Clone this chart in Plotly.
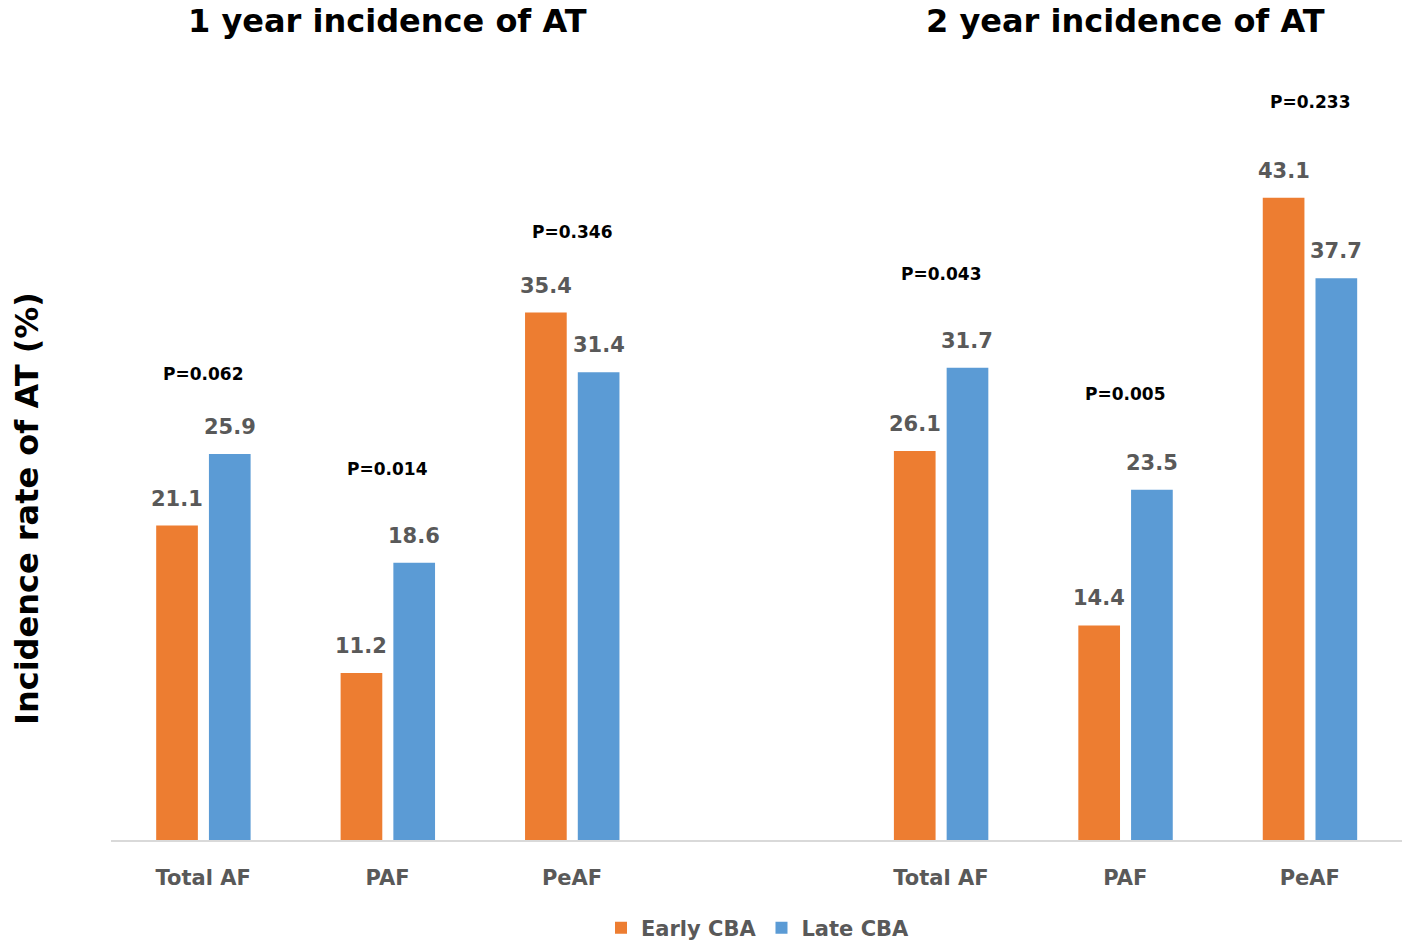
import plotly.graph_objects as go

# Incidence of atrial tachyarrhythmia (%) by AF type, early vs late cryoballoon ablation
periods = ["1 year incidence of AT", "2 year incidence of AT"]
af_types = ["Total AF", "PAF", "PeAF"]
early_1y = [21.1, 11.2, 35.4]
late_1y = [25.9, 18.6, 31.4]
early_2y = [26.1, 14.4, 43.1]
late_2y = [31.7, 23.5, 37.7]
p_1y = ["P=0.062", "P=0.014", "P=0.346"]
p_2y = ["P=0.043", "P=0.005", "P=0.233"]
# height (in % units) at which each P-value label sits
p_level_1y = [31.3, 24.9, 40.8]
p_level_2y = [38.0, 29.9, 49.5]

ORANGE = "#ED7D31"
BLUE = "#5B9BD5"
GREY = "#595959"
FONT = "DejaVu Sans"

# slot positions: three categories per period, one empty slot between periods
pos_1y = [i for i in range(len(af_types))]
pos_2y = [i + len(af_types) + 1 for i in range(len(af_types))]
positions = pos_1y + pos_2y
labels = af_types + af_types
early = early_1y + early_2y
late = late_1y + late_2y
p_text = p_1y + p_2y
p_level = p_level_1y + p_level_2y

bar_w = 0.226
off_early = -0.255
off_late = 0.031

fig = go.Figure()
fig.add_trace(go.Bar(x=positions, y=early, name="Early CBA", marker_color=ORANGE,
                     width=bar_w, offset=off_early, marker_line_width=0))
fig.add_trace(go.Bar(x=positions, y=late, name="Late CBA", marker_color=BLUE,
                     width=bar_w, offset=off_late, marker_line_width=0))

annotations = []
for x, e, l, pt, pl in zip(positions, early, late, p_text, p_level):
    annotations.append(dict(x=x + off_early + bar_w / 2, y=e, text=f"{e:.1f}",
                            showarrow=False, yanchor="bottom", yshift=13,
                            font=dict(family=FONT, size=21, color=GREY, weight="bold")))
    annotations.append(dict(x=x + off_late + bar_w / 2, y=l, text=f"{l:.1f}",
                            showarrow=False, yanchor="bottom", yshift=13,
                            font=dict(family=FONT, size=21, color=GREY, weight="bold")))
    annotations.append(dict(x=x, y=pl, text=pt, showarrow=False, yanchor="middle",
                            font=dict(family=FONT, size=17, color="#000000", weight="bold")))

for title, pos in zip(periods, [pos_1y, pos_2y]):
    annotations.append(dict(x=pos[1], y=(840 - 21) / 745, yref="paper", text=title,
                            showarrow=False, yanchor="middle",
                            font=dict(family=FONT, size=32, color="#000000", weight="bold")))

annotations.append(dict(x=(27 - 111) / 1291, y=(840 - 509) / 745, xref="paper", yref="paper",
                        text="Incidence rate of AT (%)", textangle=-90, showarrow=False,
                        xanchor="center", yanchor="middle",
                        font=dict(family=FONT, size=32, color="#000000", weight="bold")))

fig.update_layout(
    width=1402, height=944,
    margin=dict(l=111, r=0, t=95, b=104, autoexpand=False),
    paper_bgcolor="white", plot_bgcolor="white",
    barmode="overlay",
    showlegend=True,
    legend=dict(orientation="h", x=(758 - 111) / 1291, xanchor="center",
                y=(840 - 928) / 745, yanchor="middle",
                font=dict(family=FONT, size=21, color=GREY, weight="bold"),
                itemwidth=30, traceorder="normal"),
    annotations=annotations,
    xaxis=dict(range=[-0.5, 6.5], tickvals=positions, ticktext=labels,
               showline=True, linecolor="#D9D9D9", linewidth=2, showgrid=False,
               zeroline=False, ticks="", ticklabelstandoff=18,
               tickfont=dict(family=FONT, size=21, color=GREY, weight="bold")),
    yaxis=dict(range=[0, 50], showticklabels=False, showgrid=False, zeroline=False,
               showline=False, ticks=""),
)

fig.write_html("out.html")
